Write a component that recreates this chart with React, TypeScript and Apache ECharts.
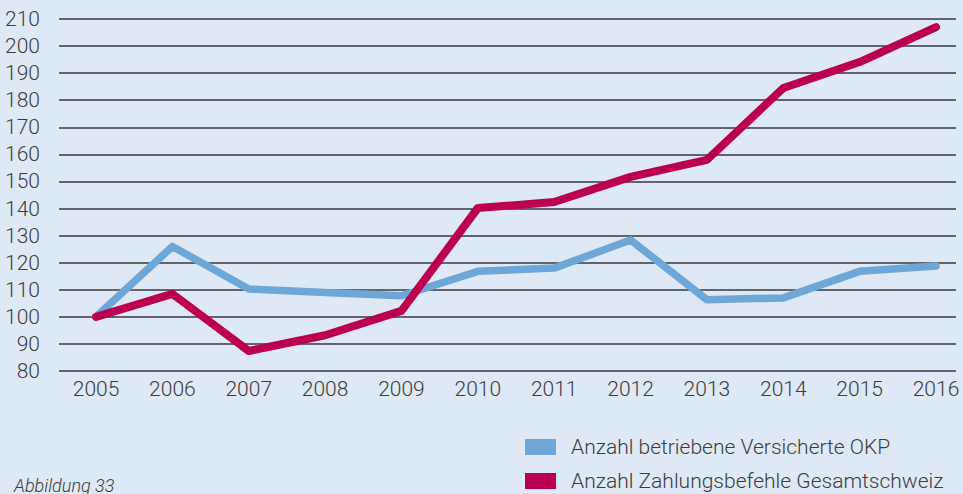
import React, { useEffect, useRef } from "react";
import * as echarts from "echarts";

const years = [2005, 2006, 2007, 2008, 2009, 2010, 2011, 2012, 2013, 2014, 2015, 2016];
const versicherte = [100, 126, 110.3, 109, 107.8, 116.8, 118, 128.4, 106.3, 107, 116.8, 118.8];
const zahlungsbefehle = [100, 108.5, 87.4, 93.2, 102.2, 140.2, 142.4, 151.7, 158, 184.5, 194.1, 207];
const seriesNames = ["Anzahl betriebene Versicherte OKP", "Anzahl Zahlungsbefehle Gesamtschweiz"];
const seriesColors = ["#6fa6d8", "#bc0050"];
const caption = "Abbildung 33";

const FONT = "Roboto, 'Noto Sans', sans-serif";
const TEXT = "#3c3c3c";

export default function App() {
  const ref = useRef<HTMLDivElement>(null);
  useEffect(() => {
    document.body.style.margin = "0";
    const chart = echarts.init(ref.current!, null, { renderer: "svg" });
    const legendItems: any[] = [];
    seriesNames.forEach((name, i) => {
      const y = 439 + i * 34;
      legendItems.push({
        type: "rect",
        shape: { x: 525, y, width: 31, height: 16 },
        style: { fill: seriesColors[i] },
      });
      legendItems.push({
        type: "text",
        x: 571,
        y: y + 8,
        style: {
          text: name,
          fill: TEXT,
          font: `300 21px ${FONT}`,
          verticalAlign: "middle",
          align: "left",
        },
      });
    });
    chart.setOption({
      animation: false,
      backgroundColor: "#dfe9f5",
      textStyle: { fontFamily: FONT },
      grid: { left: 59, right: 7, top: 19, bottom: 123 },
      xAxis: {
        type: "value",
        min: 2004.515,
        max: 2016.262,
        splitLine: { show: false },
        axisLine: { show: false },
        axisTick: { show: false },
        axisLabel: {
          customValues: years,
          formatter: (v: number) => String(v),
          color: TEXT,
          fontSize: 21,
          fontWeight: 300,
          margin: 7,
          fontFamily: FONT,
        },
      },
      yAxis: {
        type: "value",
        min: 80,
        max: 210,
        interval: 10,
        axisLine: { show: false },
        axisTick: { show: false },
        axisLabel: { color: TEXT, fontSize: 21, fontWeight: 300, margin: 19, fontFamily: FONT },
        splitLine: { lineStyle: { color: "#383838", width: 1.5 } },
      },
      graphic: [
        ...legendItems,
        {
          type: "text",
          x: 14,
          y: 485,
          style: {
            text: caption,
            fill: TEXT,
            font: `italic 300 18px ${FONT}`,
            verticalAlign: "middle",
          },
        },
      ],
      series: [
        {
          name: seriesNames[0],
          type: "line",
          data: years.map((y, i) => [y, versicherte[i]]),
          symbol: "none",
          color: seriesColors[0],
          lineStyle: { width: 7.5, color: seriesColors[0], cap: "round", join: "round" },
        },
        {
          name: seriesNames[1],
          type: "line",
          data: years.map((y, i) => [y, zahlungsbefehle[i]]),
          symbol: "none",
          color: seriesColors[1],
          lineStyle: { width: 8, color: seriesColors[1], cap: "round", join: "round" },
        },
      ],
    });
    return () => chart.dispose();
  }, []);
  return <div ref={ref} style={{ width: 963, height: 494 }} />;
}
